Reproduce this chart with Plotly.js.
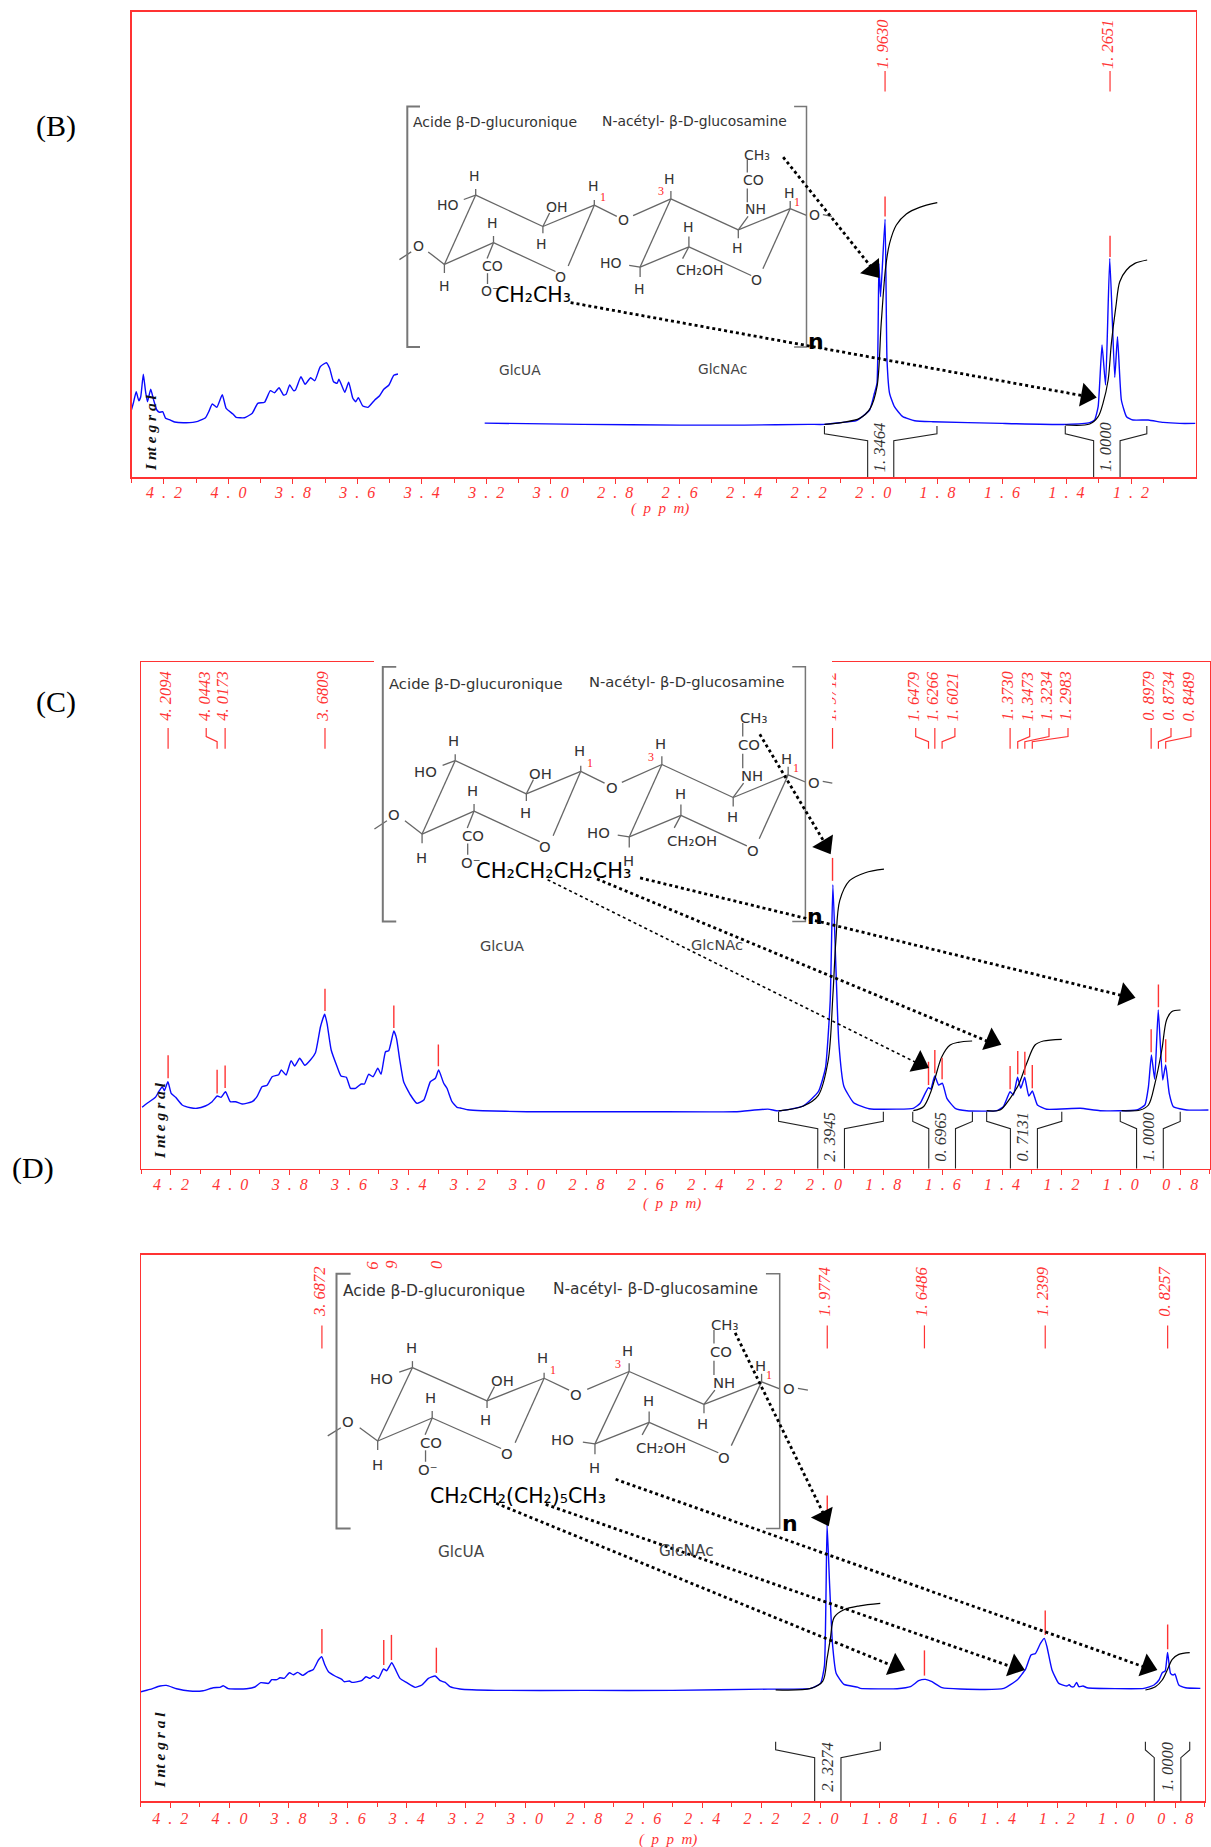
<!DOCTYPE html>
<html><head><meta charset="utf-8">
<script src="https://cdn.plot.ly/plotly-3.0.1.min.js"></script>
<style>html,body{margin:0;padding:0;background:#fff}#chart{width:1211px;height:1847px}</style>
</head><body><div id="chart"></div>
<script>
// ---------- Panel B ----------
const bPpm=[4.301,4.295,4.286,4.278,4.272,4.264,4.257,4.251,4.241,4.232,4.222,4.214,4.204,4.195,4.183,4.167,4.131,4.095,4.071,4.061,4.050,4.036,4.019,4.007,3.986,3.976,3.950,3.926,3.909,3.888,3.870,3.857,3.843,3.829,3.821,3.810,3.798,3.792,3.775,3.762,3.745,3.732,3.715,3.696,3.686,3.674,3.663,3.657,3.639,3.627,3.614,3.605,3.597,3.583,3.567,3.546,3.531,3.518,3.502,3.487,3.474,null,3.205,2.9,2.6,2.4,2.2,2.151,2.104,2.052,2.011,1.996,1.988,1.982,1.977,1.963,1.957,1.949,1.934,1.908,1.871,1.815,1.6,1.400,1.328,1.313,1.302,1.290,1.279,1.266,1.2505,1.242,1.230,1.214,1.194,1.147,1.100,1.049,1.0];
const bInt=[67.4,74.1,85.7,76.7,80.7,103.1,85.7,75.7,88.1,77.4,67.4,65.1,65.7,59.1,57.7,55.4,54.7,56.1,59.7,65.7,73.4,70.1,82.7,69.1,63.4,60.1,59.7,64.1,74.1,75.1,86.7,84.7,89.7,82.4,83.1,92.4,86.7,87.4,100.7,93.1,99.7,96.7,110.7,114.7,109.1,95.7,94.1,98.1,85.1,95.1,79.1,75.7,79.7,71.4,70.1,77.4,81.7,88.1,92.4,102.1,103.4,null,54.3,53,52.3,52.3,53,53,54.7,56.7,67.4,84.1,94,214,180.7,258,117.4,84,70.7,60.7,56.7,55.7,54,53,54.7,57.4,70.7,132.4,92.4,219,100,140.7,77.4,60.7,57.4,57.4,55,54,54];
const bIntegralPpm=[2.151,2.094,2.042,2.009,1.988,1.975,1.961,1.949,1.928,1.897,1.856,1.801,null,1.404,1.328,1.302,1.287,1.271,1.261,1.247,1.235,1.214,1.188,1.150];
const bIntegralH=[53,55,59,69,90.7,154,210.7,234,252.4,263.4,270,274.7,null,52.4,53.4,60.7,74,97.4,134,170.7,195.7,207.4,214,217.4];
const bBracketPpm=[[2.151,2.017,1.936,1.802],[1.404,1.316,1.234,1.151]];
const bBracketH=[51.4,43.6,36.8];
const bIntegralValues=['1. 3464','1. 0000'];
const bPeakValues=[1.9630,1.2651];
const bPeakLabels=['1. 9630','1. 2651'];
const bLowTop=[281,241.7];
const bLowBot=[261,220.4];

// ---------- Panel C ----------
const cPpm=[4.297,4.280,4.252,4.241,4.229,4.222,4.210,4.199,4.184,4.162,4.134,4.112,4.084,4.061,4.044,4.031,4.016,4.0,3.982,3.960,3.926,3.910,3.893,3.876,3.859,3.837,3.828,3.812,3.795,3.783,3.766,3.749,3.730,3.713,3.696,3.682,3.674,3.660,3.640,3.627,3.609,3.595,3.578,3.559,3.548,3.534,3.519,3.503,3.492,3.477,3.466,3.449,3.440,3.429,3.416,3.393,3.371,3.348,3.326,3.309,3.298,3.281,3.270,3.253,3.236,3.225,3.2,3.15,3.0,2.6,2.3,2.189,2.153,2.071,2.019,1.995,1.979,1.970,1.960,1.950,1.933,1.900,1.848,1.756,1.699,1.676,1.659,1.648,1.640,1.627,1.614,1.601,1.586,1.558,1.519,1.418,1.396,1.373,1.362,1.348,1.337,1.324,1.310,1.298,1.281,1.250,1.137,1.070,0.947,0.919,0.907,0.897,0.886,0.874,0.859,0.849,0.837,0.823,0.778,0.705];
const cInt=[61.4,65.4,71.4,77,82,78,87,75.4,71.4,63.7,61,60.4,62.7,67,72.7,71.4,77,67,67,64.7,67,72,82,83.4,92,94,98.7,93.7,108,102.7,110.4,103.4,108.7,116,142,154.4,145.4,118.7,102,92.7,91.4,80.4,80.4,84.7,84.7,94.4,92,100.4,94.4,117,118,137.7,130.4,108.7,87,73.7,65.4,68.7,87,90.4,98.7,85.4,80.4,67,61.4,60.7,59,58,57,57,57,59.6,57.8,62.5,77,100.7,168,284,202.5,126,82.5,66,60,59.6,60.4,65.4,75.4,81,79.7,92.7,83.7,85.4,70.4,60.4,58,58,62,77,73.7,91.4,80.4,91.4,72.7,77.7,63.7,59.4,60.4,58,58.7,63.7,82,113.7,89.4,158.7,88.7,103.7,75.4,62,58.7,58.7];
const cIntegralPpm=[2.153,2.071,2.019,1.986,1.970,1.960,1.947,1.914,1.861,1.798,null,1.699,1.665,1.642,1.626,1.603,1.575,1.547,1.501,null,1.452,1.407,1.373,1.345,1.317,1.289,1.261,1.199,null,0.9975,0.935,0.907,0.885,0.862,0.846,0.829,0.799];
const cIntegralH=[57.8,62.5,73.4,108,173.4,228,268,288,296,299.5,null,58,62,75.4,90.4,112,123.7,126.4,127.7,null,58,58.7,70.4,83.7,105.4,123.7,127.7,129.4,null,58,58.7,63.7,85.4,118.7,148.7,157,158.7];
const cBracketPpm=[[2.153,2.021,1.931,1.800],[1.701,1.647,1.557,1.500],[1.452,1.372,1.281,1.199],[1.002,0.947,0.857,0.800]];
const cBracketH=[57,47.3,40];
const cIntegralValues=['2. 3945','0. 6965','0. 7131','1. 0000'];
const cPeakValues=[4.2094,4.0443,4.0173,3.6809,1.9712,1.6479,1.6266,1.6021,1.3730,1.3473,1.3234,1.2983,0.8979,0.8734,0.8489];
const cPeakLabelAt=[4.2094,4.081,4.0173,3.6809,1.9712,1.691,1.6266,1.559,1.3730,1.307,1.242,1.178,0.8979,0.831,0.764];
const cPeakLabels=['4. 2094','4. 0443','4. 0173','3. 6809','1. 9712','1. 6479','1. 6266','1. 6021','1. 3730','1. 3473','1. 3234','1. 2983','0. 8979','0. 8734','0. 8489'];
const cLowPpm=[4.2094,4.0443,4.0173,3.6809,3.449,3.299,1.9712,1.6479,1.6266,1.6021,1.3730,1.3473,1.3234,1.2983,0.8979,0.8734,0.8489];
const cLowTop=[113.4,98.9,103.2,180,163.2,124.3,310.8,107,118.7,111,102.7,117.7,117,103.7,139.4,184.3,129.4];
const cLowBot=[90.5,75.2,80.7,157.8,140.7,102.5,287.9,83.7,95.4,89.4,79.4,94.4,93.7,80.4,116.4,161.4,106.4];

// ---------- Panel D ----------
const dPpm=[4.303,4.269,4.235,4.213,4.179,4.134,4.089,4.055,4.032,4.021,4.004,3.942,3.914,3.894,3.868,3.857,3.840,3.829,3.815,3.797,3.784,3.769,3.752,3.733,3.716,3.699,3.688,3.677,3.665,3.643,3.620,3.612,3.594,3.586,3.553,3.538,3.524,3.513,3.496,3.479,3.468,3.451,3.440,3.423,3.400,3.372,3.349,3.327,3.304,3.287,3.270,3.254,3.220,3.1,2.8,2.5,2.178,2.033,2.0,1.987,1.978,1.970,1.960,1.947,1.921,1.875,1.8655,1.741,1.696,1.668,1.645,1.623,1.589,1.527,1.380,1.335,1.307,1.288,1.273,1.256,1.243,1.234,1.217,1.194,1.166,1.159,1.152,1.143,1.134,1.126,1.112,1.098,0.906,0.872,0.855,0.844,0.834,0.826,0.816,0.807,0.801,0.788,0.765,0.715];
const dInt=[109.4,112,115.4,116,112.7,110.4,110.7,113.7,114,115.7,112.7,112.7,114.4,118.7,118,121.7,121.7,123.7,123,128.7,126.7,129,126,129.7,132,141.4,144.7,136.4,129.7,125.4,122,119.7,120.4,119,120.7,124.7,123,125.7,123,132.4,130.7,138.7,133,123,118.7,114,116.4,123,125.4,120.7,119,114.7,112.4,111,111,111,112.3,113,118,135.5,276.8,220.7,158.7,127.8,117,114.2,113,112.7,114.7,120.7,122,119.7,113.7,112.4,113,121.4,132,146.4,148,158,163,154.7,131.4,118,115.4,116.7,114.7,114.7,119,114.7,115.4,113.7,113,116.4,121.4,128.7,130.4,149,128,126.4,127.4,116.4,113.7,113];
const dIntegralPpm=[2.152,2.033,1.993,1.978,1.967,1.954,1.921,1.868,1.798,null,0.901,0.867,0.844,0.827,0.810,0.788,0.751];
const dIntegralH=[111.5,113,120,143,162.6,184,191.6,195.5,198,null,111.4,114.7,121.4,131.4,142,147,148.7];
const dBracketPpm=[[2.152,2.020,1.931,1.798],[0.901,0.871,0.781,0.751]];
const dBracketH=[59.6,51.5,43.7];
const dIntegralValues=['2. 3274','1. 0000'];
const dPeakValues=[3.6872,1.9774,1.6486,1.2399,0.8257];
const dPeakLabels=['3. 6872','1. 9774','1. 6486','1. 2399','0. 8257'];
const dLowPpm=[3.6872,3.478,3.452,3.30,1.9774,1.6486,1.2399,0.8257];
const dLowTop=[172.3,161.4,166.5,153.7,305.8,151,190.9,176.9];
const dLowBot=[147.9,136.3,141.3,128.5,278.7,125.8,166.5,152.1];

// ---------- Shared text ----------
const titleGluc='Acide β-D-glucuronique';
const titleNac='N-acétyl- β-D-glucosamine';
const unitLabel='(\u2002p\u2002p\u2002m)';
const integralWord='I nt e g r a l';

// ---------- Page geometry of the three frames ----------
const W=1211,H=1847;
const frames={
 b:{l:131.7,r:1195.5,t:11.5,b:477.4,range:[4.30,1.0],last:1.1,standoff:-5},
 c:{l:141.2,r:1209.9,t:662.4,b:1168.7,range:[4.30,0.70],last:0.7,standoff:-4},
 d:{l:140.8,r:1204.8,t:1254.7,b:1801.4,range:[4.30,0.70],last:0.7,standoff:-3}
};
const RED='#ff3333',BLUE='#0a0aff',BOND='#666';
const layout={width:W,height:H,margin:{l:0,r:0,t:0,b:0},paper_bgcolor:'#fff',plot_bgcolor:'rgba(0,0,0,0)',showlegend:false,hovermode:false,annotations:[],font:{family:'Liberation Serif'}};
const traces=[];
const serif='Liberation Serif';

function tickInfo(last){
  const major=[],text=[],minor=[];
  for(let i=43;i>=Math.round(last*10);i--){
    const v=i/10;
    if(i%2===0){const s=v.toFixed(1).split('.');major.push(v);text.push(s[0]+'\u2002.\u2002'+s[1]);}
    else minor.push(v);
  }
  return {major,text,minor};
}
['b','c','d'].forEach((k,i)=>{
  const f=frames[k],n=i===0?'':String(i+1),t=tickInfo(f.last);
  layout['xaxis'+n]={domain:[f.l/W,f.r/W],range:f.range,anchor:'y'+n,showgrid:false,zeroline:false,showline:true,mirror:true,linecolor:RED,linewidth:1.3,ticks:'outside',ticklen:5,tickcolor:RED,tickwidth:1,tickmode:'array',tickvals:t.major,ticktext:t.text,tickangle:0,ticklabelstandoff:f.standoff,tickfont:{family:serif,size:16,color:RED,style:'italic'},minor:{tickmode:'array',tickvals:t.minor,ticks:'outside',ticklen:4,tickcolor:RED,tickwidth:1,showgrid:false}};
  layout['yaxis'+n]={domain:[1-f.b/H,1-f.t/H],range:[0,f.b-f.t],anchor:'x'+n,showgrid:false,zeroline:false,showline:true,mirror:true,linecolor:RED,linewidth:1.3,ticks:'',showticklabels:false};
});
layout.xaxis4={domain:[0,1],range:[0,W],anchor:'y4',visible:false,fixedrange:true};
layout.yaxis4={domain:[0,1],range:[H,0],anchor:'x4',visible:false,fixedrange:true};

function ax(k){const i={b:'',c:'2',d:'3'}[k];return {xaxis:'x'+i,yaxis:'y'+i,xref:'x'+i,yref:'y'+i};}
function line(k,x,y,color,width,smooth){const a=ax(k);traces.push({type:'scatter',mode:'lines',x,y,xaxis:a.xaxis,yaxis:a.yaxis,connectgaps:false,hoverinfo:'skip',line:smooth?{color,width,shape:'spline',smoothing:smooth}:{color,width}});}
function note(text,x,y,size,color,o){o=o||{};layout.annotations.push(Object.assign({text,x,y,xref:'x4',yref:'y4',showarrow:false,xanchor:'center',yanchor:'middle',font:{family:o.family||'DejaVu Sans',size,color,style:o.style||'normal',weight:o.weight||'normal'}},o.extra||{}));}
function mask(x0,x1,y0,y1){layout.annotations.push({text:'\u00a0',xref:'x4',yref:'y4',x:(x0+x1)/2,y:(y0+y1)/2,showarrow:false,width:x1-x0,height:y1-y0,bgcolor:'#fff',borderpad:0,borderwidth:0,xanchor:'center',yanchor:'middle',font:{size:1}});}
function brackets(k,ppm,h){
  const xs=[],ys=[];
  ppm.forEach(p=>{
    xs.push(p[0],p[0],p[1],p[1],null,p[3],p[3],p[2],p[2],null);
    ys.push(h[0],h[1],h[2],0,null,h[0],h[1],h[2],0,null);
  });
  line(k,xs,ys,'#222',1.1);
}
function integrals(k,ppm,vals,y){
  const a=ax(k);
  ppm.forEach((p,i)=>{
    layout.annotations.push({text:vals[i],x:p,y,xref:a.xref,yref:a.yref,showarrow:false,textangle:-90,xshift:-1,font:{family:serif,size:16.5,color:'#333',style:'italic'}});
  });
}
function lowTicks(k,ppm,top,bot){
  const xs=[],ys=[];ppm.forEach((p,i)=>{xs.push(p,p,null);ys.push(bot[i],top[i],null);});
  line(k,xs,ys,RED,1.4);
}
function leaders(k,ppm,at,labels,t,b1,b2,b,lab){
  const xs=[],ys=[],a=ax(k);
  ppm.forEach((p,i)=>{
    xs.push(at[i],at[i],p,p,null);ys.push(t,b1,b2,b,null);
    layout.annotations.push({text:labels[i],x:at[i],y:lab,xref:a.xref,yref:a.yref,showarrow:false,textangle:-90,xshift:-2.5,font:{family:serif,size:16.5,color:RED,style:'italic'}});
  });
  line(k,xs,ys,RED,1.2);
}

// ---------- Marks of each panel ----------
line('b',bPpm,bInt,BLUE,1.4,0.45);line('b',bIntegralPpm,bIntegralH,'#000',1.2,0.9);
brackets('b',bBracketPpm,bBracketH);
integrals('b',[1.975,1.275],bIntegralValues,30.4);
lowTicks('b',bPeakValues,bLowTop,bLowBot);
leaders('b',bPeakValues,bPeakValues,bPeakLabels,406.4,400,395,386,433);

line('c',cPpm,cInt,BLUE,1.4,0.45);line('c',cIntegralPpm,cIntegralH,'#000',1.2,0.9);
brackets('c',cBracketPpm,cBracketH);
integrals('c',[1.976,1.602,1.327,0.902],cIntegralValues,32);
lowTicks('c',cLowPpm,cLowTop,cLowBot);
leaders('c',cPeakValues,cPeakLabelAt,cPeakLabels,440.6,432.2,427,419.9,472.5);

line('d',dPpm,dInt,BLUE,1.4,0.45);line('d',dIntegralPpm,dIntegralH,'#000',1.2,0.9);
brackets('d',dBracketPpm,dBracketH);
integrals('d',[1.976,0.826],dIntegralValues,34.4);
lowTicks('d',dLowPpm,dLowTop,dLowBot);
leaders('d',dPeakValues,dPeakValues,dPeakLabels,476,468,460,453,509.7);

// Masks where the pasted structure hides parts of panel C
mask(374,832,659,665.5);
mask(821,832,667,727);

// ---------- Chemical structure inset (drawn on a full-page overlay axis) ----------
const bonds=[[475.7,195.1,444.4,264.4],[475.7,195.1,542.9,226.5],[542.9,226.5,594.3,205.2],[444.4,264.4,493.5,242.7],[493.5,242.7,555.5,271.5],[594.3,205.2,568.2,266],[428.2,251.9,444.4,264.4],[399.4,259.6,411.2,251.9],[463.8,199.5,475.7,195.1],[549.6,213,542.9,226.5],[542.9,226.5,542.9,233.3],[594.3,205.2,594.3,200],[475.7,195.1,475.7,189],[493.5,242.7,493.5,236],[493.5,242.7,487.1,258.6],[487.5,273.2,487.5,284],[444.4,264.4,444.4,273],[594.3,205.2,616.8,216.4],
[670.9,198.8,640.1,267.1],[670.9,198.8,738.3,229.9],[738.3,229.9,790.2,208.6],[640.1,267.1,688.9,246.8],[688.9,246.8,751.2,275.5],[790.2,208.6,762.9,268.8],[633.1,215.7,670.9,198.8],[790.2,208.6,806.5,215.3],[822.9,214.7,831.9,216.4],[670.9,198.8,670.9,191],[629.2,265.4,640.1,267.1],[640.1,267.1,640.1,277],[688.9,246.8,688.9,236.6],[688.9,246.8,682.6,258.6],[738.3,229.9,748.1,216.4],[738.3,229.9,738.3,238.3],[747.3,188.6,747.3,202.2],[747.3,159.6,747.3,172.4],[790.2,208.6,790.2,201]];
const atoms=[['H',474.5,175.8],['HO',448,205.2],['OH',556.7,206.9],['H',541.7,244],['H',593,186],['H',492.3,223],['CO',492.7,266],['O⁻',490,291.4],['H',444,286.3],['O',418,246],['O',560.7,276.5],['O',623.4,220.4],['H',669.4,179.2],['HO',610.9,263],['H',639.4,289],['H',688.1,226.5],['CH₂OH',699.4,270.4],['NH',755.9,208.9],['H',737.2,247.8],['CO',753.2,180.2],['CH₃',757,154.5],['H',789,192.7],['O',756.7,279.9],['O',814.7,215.3]];
const redNumbers=[['1',602.6,197],['3',660.8,191.3],['1',797.2,201.8]];
const inset={x0:407.3,y0:106.5,w:399.2,h:240.4};
function drawInset(box){
  const sx=box.w/inset.w,sy=box.h/inset.h,X=v=>box.x+(v-inset.x0)*sx,Y=v=>box.y+(v-inset.y0)*sy;
  const xs=[],ys=[];
  bonds.forEach(b=>{xs.push(X(b[0]),X(b[2]),null);ys.push(Y(b[1]),Y(b[3]),null);});
  traces.push({type:'scatter',mode:'lines',x:xs,y:ys,xaxis:'x4',yaxis:'y4',hoverinfo:'skip',line:{color:BOND,width:1.3}});
  traces.push({type:'scatter',mode:'lines',x:[X(420),X(407.3),X(407.3),X(420)],y:[Y(106.5),Y(106.5),Y(346.9),Y(346.9)],xaxis:'x4',yaxis:'y4',hoverinfo:'skip',line:{color:'#777',width:2}});
  traces.push({type:'scatter',mode:'lines',x:[X(794.1),X(806.5),X(806.5),X(794.1)],y:[Y(106.5),Y(106.5),Y(346.9),Y(346.9)],xaxis:'x4',yaxis:'y4',hoverinfo:'skip',line:{color:'#777',width:1.5}});
  const fs=14*Math.min(sx,sy);
  atoms.forEach(a=>note(a[0],X(a[1]),Y(a[2]),fs,'#333'));
  redNumbers.forEach(a=>note(a[0],X(a[1]),Y(a[2]),12,'#f22',{family:serif}));
  note(titleGluc,X(495.2),Y(122.4),14*sx,'#333');
  note(titleNac,X(694.3),Y(120.5),13.9*sx,'#333');
  note('GlcUA',X(520),Y(369.5),13.8*sx,'#444');
  note('GlcNAc',X(722.8),Y(368.5),13.8*sx,'#444');
}
drawInset({x:407.3,y:106.5,w:399.2,h:240.4});
drawInset({x:382.8,y:666.7,w:422.6,h:254.8});
drawInset({x:336.5,y:1273.7,w:443.2,h:254.7});

// Substituent formulas and "n"
note('CH₂CH₃',533.3,295,20.5,'#000');
note('CH₂CH₂CH₂CH₃',553.8,871,21,'#000');
note('CH₂CH₂(CH₂)₅CH₃',518,1495.5,20.5,'#000');
note('n',816,341,22,'#000',{weight:'bold'});
note('n',815,916,22,'#000',{weight:'bold'});
note('n',790,1523,22,'#000',{weight:'bold'});

// Dotted arrows: [x0,y0,x1,y1,width]
const arrows=[[783.2,157.2,876,273,2.8],[570.6,302.6,1090,397,2.8],[759.8,734.3,829,850,2.8],[640.1,877.9,1128,997,2.8],[597,879,994,1044,2.8],[547.6,879.7,921,1065,1.6],[735.2,1332.9,827,1521,2.8],[615.6,1479.3,1150,1669,2.8],[545.7,1504.4,1018,1669,2.8],[496.2,1503.3,898,1668,2.8]];
const heads=[[872.8,269.8],[1086.4,395.5],[825.3,845.2],[1125.3,995.3],[991.7,1040.8],[919.6,1063.3],[824.1,1516.8],[1147.5,1666.6],[1015,1666.6],[895.4,1665.9]];
arrows.forEach((a,i)=>{
  traces.push({type:'scatter',mode:'lines',x:[a[0],a[2]],y:[a[1],a[3]],xaxis:'x4',yaxis:'y4',hoverinfo:'skip',line:{color:'#000',width:a[4],dash:'dot'}});
  const ang=Math.atan2(a[2]-a[0],-(a[3]-a[1]))*180/Math.PI;
  traces.push({type:'scatter',mode:'markers',x:[heads[i][0]],y:[heads[i][1]],xaxis:'x4',yaxis:'y4',hoverinfo:'skip',marker:{symbol:'triangle-up',size:21,color:'#000',angle:ang,line:{width:0}}});
});

// Panel letters, units, axis words
note('(B)',55.8,125.5,30,'#000',{family:serif});
note('(C)',55.8,701.5,30,'#000',{family:serif});
note('(D)',32.8,1168,30,'#000',{family:serif});
note(unitLabel,659.6,508.8,15,RED,{family:serif,style:'italic'});
note(unitLabel,672.1,1203.6,15,RED,{family:serif,style:'italic'});
note(unitLabel,668.2,1839,15,RED,{family:serif,style:'italic'});
[[150,433],[159.3,1120.6],[159.3,1750]].forEach(p=>note(integralWord,p[0],p[1],15.5,'#111',{family:serif,style:'italic',weight:'bold',extra:{textangle:-90}}));
// Panel D: only the last digits of three hidden labels show above the structure
[['6',371.7,1265],['9',390.7,1265],['0',436.1,1265]].forEach(p=>note(p[0],p[1],p[2],16.5,RED,{family:serif,style:'italic',extra:{textangle:-90}}));

Plotly.newPlot('chart',traces,layout,{displayModeBar:false,staticPlot:true});
</script></body></html>
